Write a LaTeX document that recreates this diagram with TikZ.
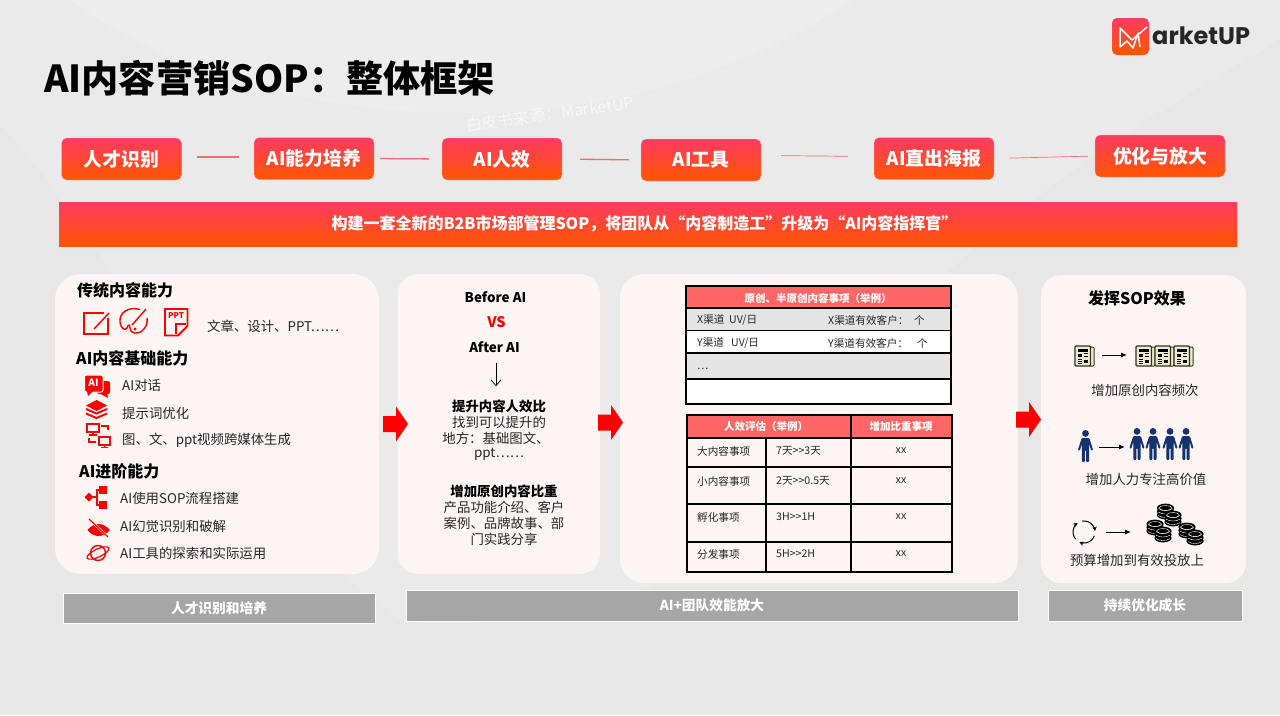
\documentclass[tikz,border=0pt]{standalone}
\usepackage{fontspec}
\setmainfont{Noto Sans CJK SC}
\newfontfamily\logofont{Poppins}
\usepackage{xcolor}
\usetikzlibrary{arrows.meta,calc,positioning}
\definecolor{mkred}{HTML}{FF0000}
\definecolor{mkrose}{HTML}{FF3A62}
\definecolor{mkorange}{HTML}{FF5500}
\definecolor{mkline}{HTML}{F9686C}
\definecolor{mkpanel}{HTML}{FDF5F3}
\definecolor{mkbar}{HTML}{A6A6A6}
\definecolor{mksalmon}{HTML}{FF6666}
\definecolor{mkrow}{HTML}{E4E4E4}
\definecolor{mkink}{HTML}{262626}
\definecolor{mknavy}{HTML}{143370}
\definecolor{mkpaper}{HTML}{EFEBD0}
\definecolor{mkolive}{HTML}{33331C}
\tikzset{
  stepbox/.style={rounded corners=5pt,top color=mkrose,bottom color=mkorange,draw=white!60!mkrose,
    line width=0.4pt,text=white,font=\fontsize{18.8}{20}\selectfont\bfseries,align=center,
    minimum width=120pt,minimum height=42pt,inner sep=0pt},
  stepline/.style={mkline,line width=1.3pt},
  panel/.style={fill=mkpanel,rounded corners=22pt},
  footbar/.style={fill=mkbar,draw=white,line width=1pt,text=white,
    font=\fontsize{13.7}{15}\selectfont\bfseries,inner sep=0pt},
  headtxt/.style={anchor=west,text=black,font=\fontsize{16}{19}\selectfont\bfseries,inner sep=0pt},
  itemtxt/.style={anchor=west,text=mkink,font=\fontsize{13.4}{16}\selectfont,inner sep=0pt},
  midhead/.style={text=black,font=\fontsize{13.4}{16}\selectfont\bfseries,inner sep=0pt},
  midtxt/.style={text=mkink,font=\fontsize{13.4}{16}\selectfont,inner sep=0pt},
  celltxt/.style={anchor=west,text=mkink,font=\fontsize{10.6}{13}\selectfont,inner sep=0pt},
  tablehead/.style={text=white,font=\fontsize{10.5}{13}\selectfont\bfseries,inner sep=0pt},
  tablerule/.style={black,line width=1.2pt,line cap=rect},
  iconline/.style={mkred,line width=1.4pt},
  flowarrow/.style={-{Latex[length=6pt,width=5pt]},black,line width=1pt},
  pics/redarrow/.style={code={
    \fill[mkred] (0,-8)--(13,-8)--(13,-17.5)--(25,0)--(13,17.5)--(13,8)--(0,8)--cycle;
  }},
  pics/person/.style={code={
    \fill[mknavy] (0,3.4) circle (3.4);
    \fill[mknavy,rounded corners=1pt] (-3.8,8)--(3.8,8)--(7.6,20)--(5.8,21)--(3.6,13.5)--(3.6,32)--(0.7,32)
      --(0.7,20)--(-0.7,20)--(-0.7,32)--(-3.6,32)--(-3.6,13.5)--(-5.8,21)--(-7.6,20)--cycle;
  }},
  pics/newspaper/.style={code={
    \draw[mkolive,fill=mkpaper,line width=1pt,rounded corners=1pt] (15,1)--(19,1)--(19,20)--(15,20);
    \draw[mkolive,fill=mkpaper,line width=1.2pt,rounded corners=1pt] (0,0) rectangle (15.5,20);
    \fill[black] (2.5,3) rectangle (13,5.5);
    \fill[black] (2.5,7.5) rectangle (7,10.5);
    \fill[black] (8.5,13.5) rectangle (13,17);
    \foreach \ly in {7.5,10.5} \draw[black,line width=0.6pt] (8.5,\ly)--(13,\ly);
    \foreach \ly in {13,15,17} \draw[black,line width=0.6pt] (2.5,\ly)--(7,\ly);
  }},
  pics/coinstack/.style={code={
    \foreach \cy in {7,3.5,0} {
      \fill[black] (0,\cy) ellipse (8.6 and 4.4);
      \draw[white,line width=0.4pt] (-7,\cy+0.6) .. controls (-3,\cy+3.2) and (3,\cy+3.2) .. (7,\cy+0.6);
    }
    \draw[white,line width=0.4pt] (0,0) ellipse (6.4 and 2.4);
  }},
}
\begin{document}
\begin{tikzpicture}[x=1pt,y=-1pt]
\useasboundingbox (0,0) rectangle (1280,715);

% ── Background with pale swooshes ───────────────────────────────
\fill[black!9.5] (0,0) rectangle (1280,715);
\fill[white,opacity=0.14] (0,0) -- (0,125) .. controls (120,250) and (240,520) .. (405,622)
  .. controls (500,625) and (600,620) .. (660,580) .. controls (900,300) and (1000,200) .. (1280,40)
  -- (1280,0) -- cycle;
\fill[white,opacity=0.18] (70,0) .. controls (180,80) and (330,115) .. (480,113)
  .. controls (640,110) and (760,60) .. (853,0) -- cycle;

% ── Title, logo, watermark ──────────────────────────────────────
\node[anchor=west,inner sep=0pt,font=\fontsize{37.2}{40}\selectfont\bfseries,text=black] (title) at (44,78)
  {AI内容营销SOP：整体框架};
\node[rotate=8,inner sep=0pt,font=\fontsize{16}{18}\selectfont,text=white!97!black] (watermark) at (550,114)
  {白皮书来源：MarketUP};
\node[rounded corners=5pt,top color=mkrose,bottom color=mkorange,minimum width=37pt,minimum height=37pt,
  inner sep=0pt] (logomark) at (1130.5,36.5) {};
\draw[white,line width=1.5pt,line join=round] (1120,47)--(1120,28)--(1132,40)--(1147,27);
\draw[white,line width=1.5pt,line join=round] (1120,47)--(1127,41)--(1133,48)--(1138,33)--(1140,47);
\node[anchor=west,inner sep=0pt,font=\fontsize{24}{26}\logofont\bfseries,text=mkink] (logotext) at (1152,36)
  {arketUP};

% ── Step row and its lines ──────────────────────────────────────
\node[stepbox] (talent) at (121.5,159) {人才识别};
\node[stepbox] (train) at (314,158.5) {AI能力培养};
\node[stepbox] (effect) at (502,159) {AI人效};
\node[stepbox] (tools) at (701,160) {AI工具};
\node[stepbox] (poster) at (934,158.5) {AI直出海报};
\node[stepbox,minimum width=130pt] (scale) at (1160,156) {优化与放大};
\draw[stepline,shorten <=15pt,shorten >=15pt] ([yshift=2pt]talent.east) -- ([yshift=1.5pt]train.west);
\draw[stepline,shorten <=6pt,shorten >=13pt] (train.east) -- (effect.west);
\draw[stepline,shorten <=18pt,shorten >=12pt] (effect.east) -- (tools.west);
\draw[stepline,line width=0.7pt,shorten <=20pt,shorten >=26pt] ([yshift=4.5pt]tools.east) -- ([yshift=2pt]poster.west);
\draw[stepline,line width=0.7pt,shorten <=15pt,shorten >=7pt] (poster.east) -- (scale.west);

% ── Banner ──────────────────────────────────────────────────────
\node[top color=mkrose,bottom color=mkorange,minimum width=1178pt,minimum height=44pt,inner sep=0pt] (banner)
  at (648,224) {};
\node[inner sep=0pt,text=white,font=\fontsize{16}{18}\selectfont\bfseries] (bannertext) at (644.5,224)
  {构建一套全新的B2B市场部管理SOP，将团队从“内容制造工”升级为“AI内容指挥官”};

% ── Panels ──────────────────────────────────────────────────────
\fill[panel,rounded corners=26pt] (55,274) rectangle (379,574);
\fill[panel,rounded corners=20pt] (398,274) rectangle (600,574);
\fill[panel,rounded corners=24pt] (620,274) rectangle (1018,583);
\fill[panel,rounded corners=20pt] (1041,275) rectangle (1246,583);
\pic at (383,424) {redarrow};
\pic at (598,422.5) {redarrow};
\pic at (1016,419.5) {redarrow};

% ── Footer bars ─────────────────────────────────────────────────
\node[footbar,minimum width=312pt,minimum height=30pt] (foota) at (219,608) {人才识别和培养};
\node[footbar,minimum width=612pt,minimum height=31pt] (footb) at (712,605.5) {AI+团队效能放大};
\node[footbar,minimum width=194pt,minimum height=31pt] (footc) at (1145,605.5) {持续优化成长};

% ── Panel 1: capabilities ───────────────────────────────────────
\node[headtxt] (capa) at (77,290) {传统内容能力};
\node[itemtxt] (capatxt) at (207,326) {文章、设计、PPT……};
\node[headtxt] (capb) at (76,358) {AI内容基础能力};
\node[itemtxt] (capbone) at (122,385) {AI对话};
\node[itemtxt] (capbtwo) at (122,413) {提示词优化};
\node[itemtxt] (capbthree) at (122,440) {图、文、ppt视频跨媒体生成};
\node[headtxt] (capc) at (79,471) {AI进阶能力};
\node[itemtxt] (capcone) at (120,498) {AI使用SOP流程搭建};
\node[itemtxt] (capctwo) at (120,526) {AI幻觉识别和破解};
\node[itemtxt] (capcthree) at (120,553) {AI工具的探索和实际运用};
% Edit, palette, ppt icons
\draw[iconline] (104,313)--(84,313)--(84,334)--(108,334)--(108,318);
\draw[iconline] (94,329)--(109,313);
\draw[iconline,line join=round] (140,309.5) .. controls (128,306) and (119,313) .. (120,322)
  .. controls (121,329) and (125,331) .. (127,328) .. controls (128,325) and (130,323) .. (130,328)
  .. controls (130,334) and (138,335) .. (143,330) .. controls (146,327) and (148,323) .. (147,318);
\draw[iconline] (132,325)--(146,309);
\fill[mkred] (135,329) circle (1.6);
\draw[mkred,line width=1.9pt,line join=miter] (165,309)--(187.5,309)--(187.5,326)--(178,335.5)--(165,335.5)--cycle;
\draw[mkred,line width=1.9pt] (176,334)--(176,324)--(186,324);
\node[inner sep=0pt,text=mkred,font=\fontsize{8}{9}\selectfont\bfseries] (ppticon) at (176,316) {PPT};
% Chat, layers, media icons
\fill[mkred,rounded corners=2pt] (97,381) rectangle (110,394);
\fill[mkred] (99,393)--(107,393)--(108,398)--cycle;
\draw[mkpanel,line width=1pt,fill=mkred,rounded corners=2pt] (84.5,375) rectangle (103,392);
\fill[mkred] (87,391)--(93,391)--(88,396)--cycle;
\node[inner sep=0pt,text=white,font=\fontsize{10}{11}\selectfont\bfseries] (aiicon) at (93.5,383) {AI};
\fill[mkred] (96.5,400)--(107,405.5)--(96.5,411)--(86,405.5)--cycle;
\foreach \sy in {409,413.5}
  \draw[mkred,line width=1.9pt] (86,\sy)--(96.5,\sy+4.5)--(107,\sy);
\draw[iconline,line width=1.2pt] (87,424) rectangle (99,432);
\draw[iconline,line width=1.2pt] (93,432)--(93,435) (89,435)--(97,435);
\draw[iconline,line width=1.2pt] (101,426)--(108,426)--(108,430);
\draw[iconline,line width=1.2pt] (89,438)--(89,442)--(96,442);
\draw[iconline,line width=1.2pt] (99,437) rectangle (110,445);
\draw[iconline,line width=1.2pt] (104.5,445)--(104.5,447) (101,447.5)--(108,447.5);
% Flow, eye, planet icons
\fill[mkred] (89,492.5)--(93.5,497)--(89,501.5)--(84.5,497)--cycle;
\fill[mkred] (99,486) rectangle (107,494);
\fill[mkred] (99,501) rectangle (107,509);
\draw[iconline] (93,497)--(97,497) (99,490)--(97,490)--(97,505)--(99,505);
\fill[mkred] (87.5,530) .. controls (94,522) and (103,522) .. (110,530) .. controls (103,538) and (94,538) .. (87.5,530) -- cycle;
\draw[mkpanel,line width=2.4pt] (89,519)--(108,537);
\draw[iconline,line width=1.2pt] (89,519)--(108,537);
\draw[iconline] (98,553) circle (7.5);
\draw[iconline,line width=1.2pt] (98,553) ellipse [x radius=12,y radius=4,rotate=25];

% ── Panel 2: before and after ───────────────────────────────────
\node[midhead] (beforeai) at (495.5,297) {Before AI};
\node[midhead,text=mkred,font=\fontsize{14.5}{16}\selectfont\bfseries] (versus) at (496.5,322) {VS};
\node[midhead] (afterai) at (494.5,347) {After AI};
\node[midhead] (raise) at (499,406) {提升内容人效比};
\node[midtxt] (raisea) at (499,422) {找到可以提升的};
\node[midtxt] (raiseb) at (496,438.5) {地方：基础图文、};
\node[midtxt] (raisec) at (499,454) {ppt……};
\node[midhead] (share) at (504,491) {增加原创内容比重};
\node[midtxt] (sharea) at (504,507) {产品功能介绍、客户};
\node[midtxt] (shareb) at (504,523) {案例、品牌故事、部};
\node[midtxt] (sharec) at (504,539) {门实践分享};
\draw[-{Straight Barb[length=6pt,width=10pt]},black,line width=0.7pt,shorten <=10pt,shorten >=13pt]
  (afterai.south -| raise.north) ++(-3,0) coordinate (downtop) (downtop) -- (downtop |- raise.north);

% ── Panel 3: first table ────────────────────────────────────────
\fill[mksalmon] (686,286) rectangle (951,308);
\fill[mkrow] (686,308) rectangle (951,330.5);
\fill[white] (686,330.5) rectangle (951,353);
\fill[mkrow] (686,353) rectangle (951,379);
\fill[white] (686,379) rectangle (951,404);
\draw[tablerule] (686,286) rectangle (951,404);
\foreach \ry in {308,330.5,353,379} \draw[tablerule] (686,\ry)--(951,\ry);
\node[tablehead] (tablea) at (818,298) {原创、半原创内容事项（举例）};
\node[celltxt] (xuv) at (697,320) {X渠道~~UV/日};
\node[celltxt] (xcust) at (828,320) {X渠道有效客户：};
\node[celltxt] (xunit) at (914,320) {个};
\node[celltxt] (yuv) at (697,343) {Y渠道~~~UV/日};
\node[celltxt] (ycust) at (828,343) {Y渠道有效客户：};
\node[celltxt] (yunit) at (917,343) {个};
\node[celltxt] (etc) at (697,369) {…};

% ── Panel 3: second table ───────────────────────────────────────
\fill[mksalmon] (687,415) rectangle (952,438);
\draw[tablerule] (687,415) rectangle (952,572);
\foreach \ry in {438,467,504,542} \draw[tablerule] (687,\ry)--(952,\ry);
\draw[tablerule] (766,438)--(766,572);
\draw[tablerule] (851,415)--(851,572);
\node[tablehead] (tableb) at (766,427) {人效评估（举例）};
\node[tablehead] (tablec) at (901,427) {增加比重事项};
\foreach \rid/\ry/\rname/\rtime in {big/451/大内容事项/7天>{}>3天,small/481/小内容事项/2天>{}>0.5天,
    hatch/517/孵化事项/3H>{}>1H,spread/554/分发事项/5H>{}>2H} {
  \node[celltxt] (\rid name) at (697,\ry) {\rname};
  \node[celltxt] (\rid time) at (776,\ry) {\rtime};
  \node[celltxt,anchor=center] (\rid xx) at (901,\ry) {xx};
}

% ── Panel 4: effects ────────────────────────────────────────────
\node[headtxt,anchor=center] (effects) at (1137,298) {发挥SOP效果};
\node[itemtxt,anchor=center] (effecta) at (1145,390) {增加原创内容频次};
\node[itemtxt,anchor=center] (effectb) at (1146,479) {增加人力专注高价值};
\node[itemtxt,anchor=center] (effectc) at (1137,560) {预算增加到有效投放上};
\pic at (1075,346) {newspaper};
\foreach \nx in {1136,1155,1174} \pic at (\nx,346) {newspaper};
\coordinate (newsfrom) at (1102,355);
\coordinate (newsto) at (1127,355);
\draw[flowarrow] (newsfrom) -- (newsto);
\pic at (1085.5,430) {person};
\foreach \px in {1137,1153,1170,1186} \pic at (\px,428) {person};
\coordinate (staffrom) at (1099,447);
\coordinate (staffto) at (1125,447);
\draw[flowarrow] (staffrom) -- (staffto);
\foreach \sa in {20,140,260}
  \draw[-{Stealth[length=4.5pt,width=4.5pt]},black,line width=1pt]
    ($(1084,532)+(\sa:11)$) arc[start angle=\sa,end angle=\sa+95,radius=11];
\coordinate (budgetfrom) at (1106,532);
\coordinate (budgetto) at (1131,532);
\draw[flowarrow] (budgetfrom) -- (budgetto);
\foreach \cx/\cy in {1165.5/508,1173/515,1155/524,1163/531,1187/527,1195/534}
  \pic at (\cx,\cy) {coinstack};
\end{tikzpicture}
\end{document}
